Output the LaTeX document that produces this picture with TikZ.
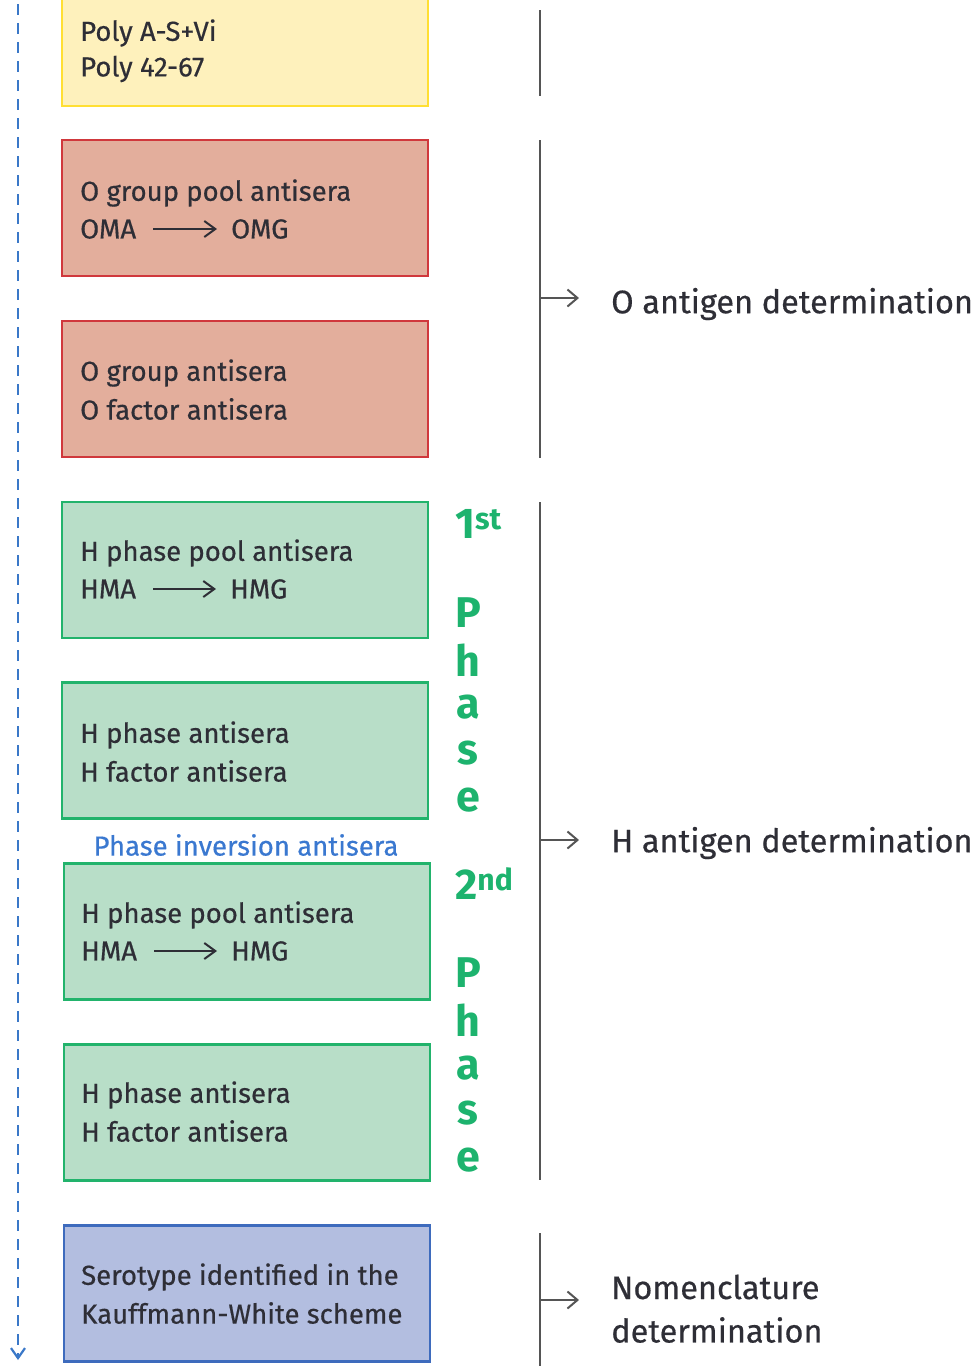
\documentclass[tikz,border=0pt]{standalone}
\usepackage{fontspec}
\setmainfont{Fira Sans}
\newfontfamily\medfont{Fira Sans}[FakeBold=0.5]
\usetikzlibrary{arrows.meta}
\definecolor{yfill}{HTML}{FEF1BC}
\definecolor{ydraw}{HTML}{FFDF33}
\definecolor{rfill}{HTML}{E3AE9C}
\definecolor{rdraw}{HTML}{D0383C}
\definecolor{gfill}{HTML}{B8DEC8}
\definecolor{gdraw}{HTML}{22B36C}
\definecolor{bfill}{HTML}{B3BEE0}
\definecolor{bdraw}{HTML}{3E6BBD}
\definecolor{ptxt}{HTML}{3A78D0}
\definecolor{gtxt}{HTML}{1DB36E}
\definecolor{dline}{HTML}{3A78C8}
\definecolor{tgray}{HTML}{2E2E36}
\definecolor{lgray}{HTML}{555555}
\begin{document}
\begin{tikzpicture}[x=1pt,y=-1pt,
  box/.style={draw, line width=2.6pt, minimum width=366pt, minimum height=136pt, inner sep=0pt},
  txt/.style={anchor=west, inner sep=0pt, text=tgray, font=\medfont\fontsize{27.5}{27.5}\selectfont},
  rtxt/.style={anchor=west, inner sep=0pt, text=tgray, font=\medfont\fontsize{32.5}{32.5}\selectfont},
  ph/.style={inner sep=0pt, text=gtxt, font=\bfseries\fontsize{43}{43}\selectfont},
  inarr/.style={-{Straight Barb[length=11pt,width=16pt,line width=2pt]}, line width=2pt, tgray, shorten <=17pt, shorten >=14pt},
  outarr/.style={-{Straight Barb[length=10pt,width=17pt]}, line width=2pt, lgray},
  vline/.style={line width=2.4pt, lgray}
]
\useasboundingbox (0,0) rectangle (980,1366);
\begin{scope}
\clip (0,0) rectangle (980,1366);
% dashed timeline
\coordinate (dtop) at (18,4);
\coordinate (dbot) at (18,1360);
\draw[dline, line width=2.2pt, dash pattern=on 11pt off 8pt, -{Straight Barb[length=10pt,width=14pt]}] (dtop) -- (dbot);

% boxes
\node[box, draw=ydraw, fill=yfill, minimum height=120pt] (y) at (245,46) {};
\node[box, draw=rdraw, fill=rfill] (r1) at (245,208) {};
\node[box, draw=rdraw, fill=rfill] (r2) at (245,389) {};
\node[box, draw=gdraw, fill=gfill] (g1) at (245,570) {};
\node[box, draw=gdraw, fill=gfill] (g2) at (245,750.5) {};
\node[box, draw=gdraw, fill=gfill] (g3) at (247,931.5) {};
\node[box, draw=gdraw, fill=gfill] (g4) at (247,1112.5) {};
\node[box, draw=bdraw, fill=bfill] (b) at (247,1293.5) {};

% box texts
\node[txt] (y1) at (80,33) {Poly A-S+Vi};
\node[txt] (y2) at (80,69) {Poly 42-67};

\node[txt] (r1a) at (80,193) {O group pool antisera};
\node[txt] (oma) at (80,229) {OMA};
\node[txt] (omg) at (231,229) {OMG};
\draw[inarr] (oma.east) -- (omg.west);

\node[txt] (r2a) at (80,373) {O group antisera};
\node[txt] (r2b) at (80,409) {O factor antisera};

\node[txt] (g1a) at (80,553) {H phase pool antisera};
\node[txt] (hma1) at (80,589) {HMA};
\node[txt] (hmg1) at (230,589) {HMG};
\draw[inarr] (hma1.east) -- (hmg1.west);

\node[txt] (g2a) at (80,735) {H phase antisera};
\node[txt] (g2b) at (80,771) {H factor antisera};

\node[inner sep=0pt, text=ptxt, font=\medfont\fontsize{27.5}{27.5}\selectfont] (pinv) at (246,845) {Phase inversion antisera};

\node[txt] (g3a) at (81,915) {H phase pool antisera};
\node[txt] (hma2) at (81,951) {HMA};
\node[txt] (hmg2) at (231,951) {HMG};
\draw[inarr] (hma2.east) -- (hmg2.west);

\node[txt] (g4a) at (81,1095) {H phase antisera};
\node[txt] (g4b) at (81,1131) {H factor antisera};

\node[txt] (b1) at (81,1277) {Serotype identified in the};
\node[txt] (b2) at (81,1313) {Kauffmann-White scheme};

% phase labels
\node[ph, anchor=west] (st1) at (455,524) {1\textsuperscript{st}};
\node[ph] (p1) at (468,613) {P};
\node[ph] (h1) at (468,660) {h};
\node[ph] (a1) at (468,707) {a};
\node[ph] (s1) at (468,753) {s};
\node[ph] (e1) at (468,800) {e};

\node[ph, anchor=west] (nd2) at (455,884) {2\textsuperscript{nd}};
\node[ph] (p2) at (468,973) {P};
\node[ph] (h2) at (468,1020) {h};
\node[ph] (a2) at (468,1068) {a};
\node[ph] (s2) at (468,1113) {s};
\node[ph] (e2) at (468,1160) {e};

% brackets
\coordinate (v1t) at (540,10);  \coordinate (v1b) at (540,96);
\coordinate (v2t) at (540,140); \coordinate (v2b) at (540,458);
\coordinate (v3t) at (540,502); \coordinate (v3b) at (540,1180);
\coordinate (v4t) at (540,1233); \coordinate (v4b) at (540,1370);
\draw[vline] (v1t) -- (v1b);
\draw[vline] (v2t) -- (v2b);
\draw[vline] (v3t) -- (v3b);
\draw[vline] (v4t) -- (v4b);

\coordinate (a1s) at (540,298); \coordinate (a1e) at (579,298);
\coordinate (a2s) at (540,840); \coordinate (a2e) at (579,840);
\coordinate (a3s) at (540,1300); \coordinate (a3e) at (579,1300);
\draw[outarr] (a1s) -- (a1e);
\draw[outarr] (a2s) -- (a2e);
\draw[outarr] (a3s) -- (a3e);

\node[rtxt] (oant) at (611,304) {O antigen determination};
\node[rtxt] (hant) at (611,843) {H antigen determination};
\node[rtxt] (nom1) at (611,1287) {Nomenclature};
\node[rtxt] (nom2) at (611,1330) {determination};
\end{scope}
\end{tikzpicture}
\end{document}
